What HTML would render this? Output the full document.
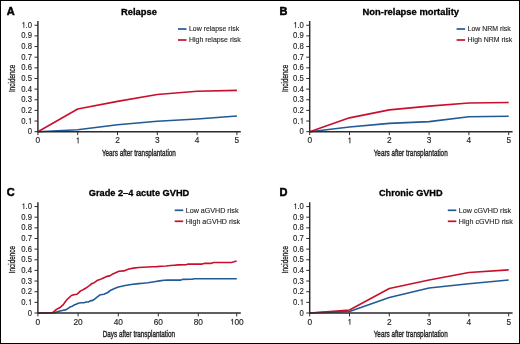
<!DOCTYPE html>
<html><head><meta charset="utf-8"><style>
html,body{margin:0;padding:0;background:#fff;}
svg{display:block;will-change:transform;}
text{font-family:"Liberation Sans", sans-serif;fill:#231f20;stroke:#231f20;stroke-width:0.25px;}
</style></head><body>
<svg width="520" height="344" viewBox="0 0 520 344">
<rect x="0" y="0" width="520" height="344" fill="#fff"/>
<rect x="0.5" y="0.5" width="519" height="343" fill="none" stroke="#000" stroke-width="1"/>
<g transform="translate(32.05 134.27) scale(0.93 1)"><text x="-4.616" y="0" font-size="8.3" style="stroke-width:0.15px">0</text></g>
<g transform="translate(32.05 123.63) scale(0.93 1)"><text x="-11.538" y="0" font-size="8.3" style="stroke-width:0.15px">0.<tspan style="fill:none;stroke:none">1</tspan></text><path d="M763 0H590V1130Q530 1075 450 1040Q380 1010 320 995V1140Q420 1190 500 1270Q580 1350 620 1409H763Z" transform="translate(-4.616 0) scale(0.004053 -0.004053)" fill="#231f20" stroke="#231f20" stroke-width="0.15" vector-effect="non-scaling-stroke"/></g>
<g transform="translate(32.05 112.98) scale(0.93 1)"><text x="-11.538" y="0" font-size="8.3" style="stroke-width:0.15px">0.2</text></g>
<g transform="translate(32.05 102.34) scale(0.93 1)"><text x="-11.538" y="0" font-size="8.3" style="stroke-width:0.15px">0.3</text></g>
<g transform="translate(32.05 91.69) scale(0.93 1)"><text x="-11.538" y="0" font-size="8.3" style="stroke-width:0.15px">0.4</text></g>
<g transform="translate(32.05 81.05) scale(0.93 1)"><text x="-11.538" y="0" font-size="8.3" style="stroke-width:0.15px">0.5</text></g>
<g transform="translate(32.05 70.4) scale(0.93 1)"><text x="-11.538" y="0" font-size="8.3" style="stroke-width:0.15px">0.6</text></g>
<g transform="translate(32.05 59.76) scale(0.93 1)"><text x="-11.538" y="0" font-size="8.3" style="stroke-width:0.15px">0.7</text></g>
<g transform="translate(32.05 49.11) scale(0.93 1)"><text x="-11.538" y="0" font-size="8.3" style="stroke-width:0.15px">0.8</text></g>
<g transform="translate(32.05 38.47) scale(0.93 1)"><text x="-11.538" y="0" font-size="8.3" style="stroke-width:0.15px">0.9</text></g>
<g transform="translate(32.05 27.82) scale(0.93 1)"><text x="-11.538" y="0" font-size="8.3" style="stroke-width:0.15px"><tspan style="fill:none;stroke:none">1</tspan>.0</text><path d="M763 0H590V1130Q530 1075 450 1040Q380 1010 320 995V1140Q420 1190 500 1270Q580 1350 620 1409H763Z" transform="translate(-11.538 0) scale(0.004053 -0.004053)" fill="#231f20" stroke="#231f20" stroke-width="0.15" vector-effect="non-scaling-stroke"/></g>
<g transform="translate(37.9 143.3) scale(1.0 1)"><text x="-2.308" y="0" font-size="8.3" style="stroke-width:0.15px">0</text></g>
<g transform="translate(77.7 143.3) scale(1.0 1)"><text x="-2.308" y="0" font-size="8.3" style="stroke-width:0.15px"><tspan style="fill:none;stroke:none">1</tspan></text><path d="M763 0H590V1130Q530 1075 450 1040Q380 1010 320 995V1140Q420 1190 500 1270Q580 1350 620 1409H763Z" transform="translate(-2.308 0) scale(0.004053 -0.004053)" fill="#231f20" stroke="#231f20" stroke-width="0.15" vector-effect="non-scaling-stroke"/></g>
<g transform="translate(117.5 143.3) scale(1.0 1)"><text x="-2.308" y="0" font-size="8.3" style="stroke-width:0.15px">2</text></g>
<g transform="translate(157.3 143.3) scale(1.0 1)"><text x="-2.308" y="0" font-size="8.3" style="stroke-width:0.15px">3</text></g>
<g transform="translate(197.1 143.3) scale(1.0 1)"><text x="-2.308" y="0" font-size="8.3" style="stroke-width:0.15px">4</text></g>
<g transform="translate(236.9 143.3) scale(1.0 1)"><text x="-2.308" y="0" font-size="8.3" style="stroke-width:0.15px">5</text></g>
<text x="138.9" y="155.6" text-anchor="middle" font-size="9.7" textLength="74.0" lengthAdjust="spacingAndGlyphs" style="stroke-width:0.4px">Years after transplantation</text>
<text transform="translate(15.3 78.3) rotate(-90)" x="0" y="0" text-anchor="middle" font-size="9.9" textLength="27.3" lengthAdjust="spacingAndGlyphs" style="stroke-width:0.35px">Incidence</text>
<text x="6.75" y="14.6" font-size="11.0" font-weight="bold" style="fill:#000;stroke:#000;stroke-width:0.5px">A</text>
<text x="139" y="14.8" text-anchor="middle" font-size="9.4" font-weight="bold" textLength="35.9" lengthAdjust="spacingAndGlyphs" style="fill:#000;stroke:#000;stroke-width:0.3px">Relapse</text>
<path d="M178 29H186.5" stroke="#215a94" stroke-width="1.7"/>
<text x="189" y="30.9" font-size="6.95" style="stroke-width:0.12px">Low relapse risk</text>
<path d="M178 40H186.5" stroke="#c8102e" stroke-width="1.7"/>
<text x="189" y="41.9" font-size="6.95" style="stroke-width:0.12px">High relapse risk</text>
<path d="M37.9 131.7L77.7 129.78L117.5 124.78L157.3 121.27L197.1 118.93L236.9 115.95" fill="none" stroke="#215a94" stroke-width="1.6" stroke-linejoin="round"/>
<path d="M37.9 131.7L77.7 109.03L117.5 101.36L157.3 94.44L197.1 91.25L236.9 90.4" fill="none" stroke="#c8102e" stroke-width="1.6" stroke-linejoin="round"/>
<path d="M37.9 21V131.7H240.8" fill="none" stroke="#2b2b2b" stroke-width="1.45"/>
<path d="M34.5 131.7H37.9M34.5 121.05H37.9M34.5 110.41H37.9M34.5 99.76H37.9M34.5 89.12H37.9M34.5 78.47H37.9M34.5 67.83H37.9M34.5 57.18H37.9M34.5 46.54H37.9M34.5 35.89H37.9M34.5 25.25H37.9M37.9 131.7V135.1M77.7 131.7V135.1M117.5 131.7V135.1M157.3 131.7V135.1M197.1 131.7V135.1M236.9 131.7V135.1" fill="none" stroke="#2b2b2b" stroke-width="1.0"/>
<g transform="translate(303.85 134.27) scale(0.93 1)"><text x="-4.616" y="0" font-size="8.3" style="stroke-width:0.15px">0</text></g>
<g transform="translate(303.85 123.63) scale(0.93 1)"><text x="-11.538" y="0" font-size="8.3" style="stroke-width:0.15px">0.<tspan style="fill:none;stroke:none">1</tspan></text><path d="M763 0H590V1130Q530 1075 450 1040Q380 1010 320 995V1140Q420 1190 500 1270Q580 1350 620 1409H763Z" transform="translate(-4.616 0) scale(0.004053 -0.004053)" fill="#231f20" stroke="#231f20" stroke-width="0.15" vector-effect="non-scaling-stroke"/></g>
<g transform="translate(303.85 112.98) scale(0.93 1)"><text x="-11.538" y="0" font-size="8.3" style="stroke-width:0.15px">0.2</text></g>
<g transform="translate(303.85 102.34) scale(0.93 1)"><text x="-11.538" y="0" font-size="8.3" style="stroke-width:0.15px">0.3</text></g>
<g transform="translate(303.85 91.69) scale(0.93 1)"><text x="-11.538" y="0" font-size="8.3" style="stroke-width:0.15px">0.4</text></g>
<g transform="translate(303.85 81.05) scale(0.93 1)"><text x="-11.538" y="0" font-size="8.3" style="stroke-width:0.15px">0.5</text></g>
<g transform="translate(303.85 70.4) scale(0.93 1)"><text x="-11.538" y="0" font-size="8.3" style="stroke-width:0.15px">0.6</text></g>
<g transform="translate(303.85 59.76) scale(0.93 1)"><text x="-11.538" y="0" font-size="8.3" style="stroke-width:0.15px">0.7</text></g>
<g transform="translate(303.85 49.11) scale(0.93 1)"><text x="-11.538" y="0" font-size="8.3" style="stroke-width:0.15px">0.8</text></g>
<g transform="translate(303.85 38.47) scale(0.93 1)"><text x="-11.538" y="0" font-size="8.3" style="stroke-width:0.15px">0.9</text></g>
<g transform="translate(303.85 27.82) scale(0.93 1)"><text x="-11.538" y="0" font-size="8.3" style="stroke-width:0.15px"><tspan style="fill:none;stroke:none">1</tspan>.0</text><path d="M763 0H590V1130Q530 1075 450 1040Q380 1010 320 995V1140Q420 1190 500 1270Q580 1350 620 1409H763Z" transform="translate(-11.538 0) scale(0.004053 -0.004053)" fill="#231f20" stroke="#231f20" stroke-width="0.15" vector-effect="non-scaling-stroke"/></g>
<g transform="translate(309.7 143.3) scale(1.0 1)"><text x="-2.308" y="0" font-size="8.3" style="stroke-width:0.15px">0</text></g>
<g transform="translate(349.5 143.3) scale(1.0 1)"><text x="-2.308" y="0" font-size="8.3" style="stroke-width:0.15px"><tspan style="fill:none;stroke:none">1</tspan></text><path d="M763 0H590V1130Q530 1075 450 1040Q380 1010 320 995V1140Q420 1190 500 1270Q580 1350 620 1409H763Z" transform="translate(-2.308 0) scale(0.004053 -0.004053)" fill="#231f20" stroke="#231f20" stroke-width="0.15" vector-effect="non-scaling-stroke"/></g>
<g transform="translate(389.3 143.3) scale(1.0 1)"><text x="-2.308" y="0" font-size="8.3" style="stroke-width:0.15px">2</text></g>
<g transform="translate(429.1 143.3) scale(1.0 1)"><text x="-2.308" y="0" font-size="8.3" style="stroke-width:0.15px">3</text></g>
<g transform="translate(468.9 143.3) scale(1.0 1)"><text x="-2.308" y="0" font-size="8.3" style="stroke-width:0.15px">4</text></g>
<g transform="translate(508.7 143.3) scale(1.0 1)"><text x="-2.308" y="0" font-size="8.3" style="stroke-width:0.15px">5</text></g>
<text x="410.7" y="155.6" text-anchor="middle" font-size="9.7" textLength="74.0" lengthAdjust="spacingAndGlyphs" style="stroke-width:0.4px">Years after transplantation</text>
<text transform="translate(287.6 78.3) rotate(-90)" x="0" y="0" text-anchor="middle" font-size="9.9" textLength="27.3" lengthAdjust="spacingAndGlyphs" style="stroke-width:0.35px">Incidence</text>
<text x="279.45" y="14.6" font-size="11.0" font-weight="bold" style="fill:#000;stroke:#000;stroke-width:0.5px">B</text>
<text x="410.8" y="14.8" text-anchor="middle" font-size="9.4" font-weight="bold" textLength="96.4" lengthAdjust="spacingAndGlyphs" style="fill:#000;stroke:#000;stroke-width:0.3px">Non-relapse mortality</text>
<path d="M456.6 29H465.1" stroke="#215a94" stroke-width="1.7"/>
<text x="467.6" y="30.9" font-size="6.95" style="stroke-width:0.12px">Low NRM risk</text>
<path d="M456.6 40H465.1" stroke="#c8102e" stroke-width="1.7"/>
<text x="467.6" y="41.9" font-size="6.95" style="stroke-width:0.12px">High NRM risk</text>
<path d="M309.7 131.7L349.5 127.02L389.3 123.4L429.1 121.59L468.9 116.8L508.7 116.26" fill="none" stroke="#215a94" stroke-width="1.6" stroke-linejoin="round"/>
<path d="M309.7 131.7L349.5 117.86L389.3 109.88L429.1 106.15L468.9 102.96L508.7 102.43" fill="none" stroke="#c8102e" stroke-width="1.6" stroke-linejoin="round"/>
<path d="M309.7 21V131.7H512.6" fill="none" stroke="#2b2b2b" stroke-width="1.45"/>
<path d="M306.3 131.7H309.7M306.3 121.05H309.7M306.3 110.41H309.7M306.3 99.76H309.7M306.3 89.12H309.7M306.3 78.47H309.7M306.3 67.83H309.7M306.3 57.18H309.7M306.3 46.54H309.7M306.3 35.89H309.7M306.3 25.25H309.7M309.7 131.7V135.1M349.5 131.7V135.1M389.3 131.7V135.1M429.1 131.7V135.1M468.9 131.7V135.1M508.7 131.7V135.1" fill="none" stroke="#2b2b2b" stroke-width="1.0"/>
<g transform="translate(32.05 315.57) scale(0.93 1)"><text x="-4.616" y="0" font-size="8.3" style="stroke-width:0.15px">0</text></g>
<g transform="translate(32.05 304.93) scale(0.93 1)"><text x="-11.538" y="0" font-size="8.3" style="stroke-width:0.15px">0.<tspan style="fill:none;stroke:none">1</tspan></text><path d="M763 0H590V1130Q530 1075 450 1040Q380 1010 320 995V1140Q420 1190 500 1270Q580 1350 620 1409H763Z" transform="translate(-4.616 0) scale(0.004053 -0.004053)" fill="#231f20" stroke="#231f20" stroke-width="0.15" vector-effect="non-scaling-stroke"/></g>
<g transform="translate(32.05 294.28) scale(0.93 1)"><text x="-11.538" y="0" font-size="8.3" style="stroke-width:0.15px">0.2</text></g>
<g transform="translate(32.05 283.64) scale(0.93 1)"><text x="-11.538" y="0" font-size="8.3" style="stroke-width:0.15px">0.3</text></g>
<g transform="translate(32.05 272.99) scale(0.93 1)"><text x="-11.538" y="0" font-size="8.3" style="stroke-width:0.15px">0.4</text></g>
<g transform="translate(32.05 262.35) scale(0.93 1)"><text x="-11.538" y="0" font-size="8.3" style="stroke-width:0.15px">0.5</text></g>
<g transform="translate(32.05 251.7) scale(0.93 1)"><text x="-11.538" y="0" font-size="8.3" style="stroke-width:0.15px">0.6</text></g>
<g transform="translate(32.05 241.06) scale(0.93 1)"><text x="-11.538" y="0" font-size="8.3" style="stroke-width:0.15px">0.7</text></g>
<g transform="translate(32.05 230.41) scale(0.93 1)"><text x="-11.538" y="0" font-size="8.3" style="stroke-width:0.15px">0.8</text></g>
<g transform="translate(32.05 219.77) scale(0.93 1)"><text x="-11.538" y="0" font-size="8.3" style="stroke-width:0.15px">0.9</text></g>
<g transform="translate(32.05 209.12) scale(0.93 1)"><text x="-11.538" y="0" font-size="8.3" style="stroke-width:0.15px"><tspan style="fill:none;stroke:none">1</tspan>.0</text><path d="M763 0H590V1130Q530 1075 450 1040Q380 1010 320 995V1140Q420 1190 500 1270Q580 1350 620 1409H763Z" transform="translate(-11.538 0) scale(0.004053 -0.004053)" fill="#231f20" stroke="#231f20" stroke-width="0.15" vector-effect="non-scaling-stroke"/></g>
<g transform="translate(37.9 324.6) scale(1.0 1)"><text x="-2.308" y="0" font-size="8.3" style="stroke-width:0.15px">0</text></g>
<g transform="translate(78.1 324.6) scale(1.0 1)"><text x="-4.616" y="0" font-size="8.3" style="stroke-width:0.15px">20</text></g>
<g transform="translate(118.3 324.6) scale(1.0 1)"><text x="-4.616" y="0" font-size="8.3" style="stroke-width:0.15px">40</text></g>
<g transform="translate(158.3 324.6) scale(1.0 1)"><text x="-4.616" y="0" font-size="8.3" style="stroke-width:0.15px">60</text></g>
<g transform="translate(198.3 324.6) scale(1.0 1)"><text x="-4.616" y="0" font-size="8.3" style="stroke-width:0.15px">80</text></g>
<g transform="translate(236.7 324.6) scale(1.0 1)"><text x="-6.924" y="0" font-size="8.3" style="stroke-width:0.15px"><tspan style="fill:none;stroke:none">1</tspan>00</text><path d="M763 0H590V1130Q530 1075 450 1040Q380 1010 320 995V1140Q420 1190 500 1270Q580 1350 620 1409H763Z" transform="translate(-6.924 0) scale(0.004053 -0.004053)" fill="#231f20" stroke="#231f20" stroke-width="0.15" vector-effect="non-scaling-stroke"/></g>
<text x="138.9" y="336.9" text-anchor="middle" font-size="9.7" textLength="72.3" lengthAdjust="spacingAndGlyphs" style="stroke-width:0.4px">Days after transplantation</text>
<text transform="translate(15.3 259.6) rotate(-90)" x="0" y="0" text-anchor="middle" font-size="9.9" textLength="27.3" lengthAdjust="spacingAndGlyphs" style="stroke-width:0.35px">Incidence</text>
<text x="6.75" y="195.9" font-size="11.0" font-weight="bold" style="fill:#000;stroke:#000;stroke-width:0.5px">C</text>
<text x="139" y="196.1" text-anchor="middle" font-size="9.4" font-weight="bold" textLength="100.5" lengthAdjust="spacingAndGlyphs" style="fill:#000;stroke:#000;stroke-width:0.3px">Grade 2–4 acute GVHD</text>
<path d="M174.7 210.3H183.2" stroke="#215a94" stroke-width="1.7"/>
<text x="185.7" y="212.7" font-size="7.15" style="stroke-width:0.12px">Low aGVHD risk</text>
<path d="M174.7 221.3H183.2" stroke="#c8102e" stroke-width="1.7"/>
<text x="185.7" y="223.7" font-size="7.15" style="stroke-width:0.12px">High aGVHD risk</text>
<path d="M37.9 312.85L55 312.6L58.2 311.6L62.2 310.5L66.3 309.6L69.9 307.1L72.4 306.2L74 305.1L76.1 304.2L78.2 303.2L81 302.8L83.8 302.8L86.2 302L88.3 302L90.4 300.9L92.8 300.4L94.9 298.8L97.4 296.9L100.4 294.7L103.9 294.2L107.8 292.5L110.8 290.2L114 288.8L117.6 287.3L123.8 285.8L131.2 284.5L138.6 283.6L143.1 283.2L147.7 282.8L151.2 282.2L155.7 281.5L159.4 280.9L164.1 280.3L167.8 280.1L180.9 280.1L182.4 279.4L192 279.3L194.5 278.7L236.8 278.7" fill="none" stroke="#215a94" stroke-width="1.6" stroke-linejoin="round"/>
<path d="M37.9 312.85L52.5 312.6L54.5 311.2L56.5 309.4L58.5 308.3L60.5 307.2L63.3 304.6L65.8 301L68.3 298.3L71.4 295.5L73.9 294.8L76.8 294.3L78.5 292.9L80.6 290.9L83.1 289.7L85.5 288.3L89 285.8L92 283.5L94.3 282.7L97 280.6L99.9 279.6L103.9 277.7L106.8 276.4L109.8 275.9L112.8 273.9L114 273.4L118.9 271.3L123.8 270.9L128.8 269L133.7 268.1L138.6 267.5L143.1 267.2L147.7 267L152 266.8L156.7 266.6L161.3 266.2L166 266L170.6 265.5L174.3 265.2L178 264.9L186 264.8L188.3 264.1L202 264.1L204.3 263.4L210.5 263.4L213.8 262.5L231.4 262.5L234 261.8L236.6 261" fill="none" stroke="#c8102e" stroke-width="1.6" stroke-linejoin="round"/>
<path d="M37.9 202.3V313H240.8" fill="none" stroke="#2b2b2b" stroke-width="1.45"/>
<path d="M34.5 313H37.9M34.5 302.36H37.9M34.5 291.71H37.9M34.5 281.06H37.9M34.5 270.42H37.9M34.5 259.77H37.9M34.5 249.13H37.9M34.5 238.49H37.9M34.5 227.84H37.9M34.5 217.19H37.9M34.5 206.55H37.9M37.9 313V316.4M78.1 313V316.4M118.3 313V316.4M158.3 313V316.4M198.3 313V316.4M236.7 313V316.4" fill="none" stroke="#2b2b2b" stroke-width="1.0"/>
<g transform="translate(303.85 315.57) scale(0.93 1)"><text x="-4.616" y="0" font-size="8.3" style="stroke-width:0.15px">0</text></g>
<g transform="translate(303.85 304.93) scale(0.93 1)"><text x="-11.538" y="0" font-size="8.3" style="stroke-width:0.15px">0.<tspan style="fill:none;stroke:none">1</tspan></text><path d="M763 0H590V1130Q530 1075 450 1040Q380 1010 320 995V1140Q420 1190 500 1270Q580 1350 620 1409H763Z" transform="translate(-4.616 0) scale(0.004053 -0.004053)" fill="#231f20" stroke="#231f20" stroke-width="0.15" vector-effect="non-scaling-stroke"/></g>
<g transform="translate(303.85 294.28) scale(0.93 1)"><text x="-11.538" y="0" font-size="8.3" style="stroke-width:0.15px">0.2</text></g>
<g transform="translate(303.85 283.64) scale(0.93 1)"><text x="-11.538" y="0" font-size="8.3" style="stroke-width:0.15px">0.3</text></g>
<g transform="translate(303.85 272.99) scale(0.93 1)"><text x="-11.538" y="0" font-size="8.3" style="stroke-width:0.15px">0.4</text></g>
<g transform="translate(303.85 262.35) scale(0.93 1)"><text x="-11.538" y="0" font-size="8.3" style="stroke-width:0.15px">0.5</text></g>
<g transform="translate(303.85 251.7) scale(0.93 1)"><text x="-11.538" y="0" font-size="8.3" style="stroke-width:0.15px">0.6</text></g>
<g transform="translate(303.85 241.06) scale(0.93 1)"><text x="-11.538" y="0" font-size="8.3" style="stroke-width:0.15px">0.7</text></g>
<g transform="translate(303.85 230.41) scale(0.93 1)"><text x="-11.538" y="0" font-size="8.3" style="stroke-width:0.15px">0.8</text></g>
<g transform="translate(303.85 219.77) scale(0.93 1)"><text x="-11.538" y="0" font-size="8.3" style="stroke-width:0.15px">0.9</text></g>
<g transform="translate(303.85 209.12) scale(0.93 1)"><text x="-11.538" y="0" font-size="8.3" style="stroke-width:0.15px"><tspan style="fill:none;stroke:none">1</tspan>.0</text><path d="M763 0H590V1130Q530 1075 450 1040Q380 1010 320 995V1140Q420 1190 500 1270Q580 1350 620 1409H763Z" transform="translate(-11.538 0) scale(0.004053 -0.004053)" fill="#231f20" stroke="#231f20" stroke-width="0.15" vector-effect="non-scaling-stroke"/></g>
<g transform="translate(309.7 324.6) scale(1.0 1)"><text x="-2.308" y="0" font-size="8.3" style="stroke-width:0.15px">0</text></g>
<g transform="translate(349.5 324.6) scale(1.0 1)"><text x="-2.308" y="0" font-size="8.3" style="stroke-width:0.15px"><tspan style="fill:none;stroke:none">1</tspan></text><path d="M763 0H590V1130Q530 1075 450 1040Q380 1010 320 995V1140Q420 1190 500 1270Q580 1350 620 1409H763Z" transform="translate(-2.308 0) scale(0.004053 -0.004053)" fill="#231f20" stroke="#231f20" stroke-width="0.15" vector-effect="non-scaling-stroke"/></g>
<g transform="translate(389.3 324.6) scale(1.0 1)"><text x="-2.308" y="0" font-size="8.3" style="stroke-width:0.15px">2</text></g>
<g transform="translate(429.1 324.6) scale(1.0 1)"><text x="-2.308" y="0" font-size="8.3" style="stroke-width:0.15px">3</text></g>
<g transform="translate(468.9 324.6) scale(1.0 1)"><text x="-2.308" y="0" font-size="8.3" style="stroke-width:0.15px">4</text></g>
<g transform="translate(508.7 324.6) scale(1.0 1)"><text x="-2.308" y="0" font-size="8.3" style="stroke-width:0.15px">5</text></g>
<text x="410.7" y="336.9" text-anchor="middle" font-size="9.7" textLength="74.0" lengthAdjust="spacingAndGlyphs" style="stroke-width:0.4px">Years after transplantation</text>
<text transform="translate(287.6 259.6) rotate(-90)" x="0" y="0" text-anchor="middle" font-size="9.9" textLength="27.3" lengthAdjust="spacingAndGlyphs" style="stroke-width:0.35px">Incidence</text>
<text x="279.45" y="195.9" font-size="11.0" font-weight="bold" style="fill:#000;stroke:#000;stroke-width:0.5px">D</text>
<text x="410.8" y="196.1" text-anchor="middle" font-size="9.4" font-weight="bold" textLength="63.6" lengthAdjust="spacingAndGlyphs" style="fill:#000;stroke:#000;stroke-width:0.3px">Chronic GVHD</text>
<path d="M447.8 210.3H456.3" stroke="#215a94" stroke-width="1.7"/>
<text x="458.8" y="212.7" font-size="7.15" style="stroke-width:0.12px">Low cGVHD risk</text>
<path d="M447.8 221.3H456.3" stroke="#c8102e" stroke-width="1.7"/>
<text x="458.8" y="223.7" font-size="7.15" style="stroke-width:0.12px">High cGVHD risk</text>
<path d="M309.7 313L349.5 311.4L389.3 297.56L429.1 287.98L468.9 283.73L508.7 280" fill="none" stroke="#215a94" stroke-width="1.6" stroke-linejoin="round"/>
<path d="M309.7 313L349.5 310.02L389.3 288.52L429.1 280L468.9 272.55L508.7 269.89" fill="none" stroke="#c8102e" stroke-width="1.6" stroke-linejoin="round"/>
<path d="M309.7 202.3V313H512.6" fill="none" stroke="#2b2b2b" stroke-width="1.45"/>
<path d="M306.3 313H309.7M306.3 302.36H309.7M306.3 291.71H309.7M306.3 281.06H309.7M306.3 270.42H309.7M306.3 259.77H309.7M306.3 249.13H309.7M306.3 238.49H309.7M306.3 227.84H309.7M306.3 217.19H309.7M306.3 206.55H309.7M309.7 313V316.4M349.5 313V316.4M389.3 313V316.4M429.1 313V316.4M468.9 313V316.4M508.7 313V316.4" fill="none" stroke="#2b2b2b" stroke-width="1.0"/>
</svg>
</body></html>
